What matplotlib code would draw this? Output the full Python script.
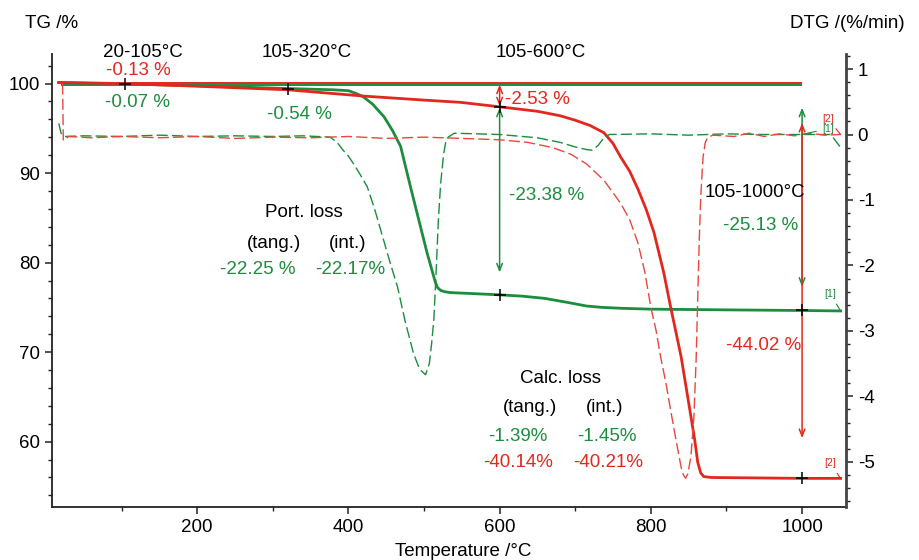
import numpy as np
import matplotlib.pyplot as plt
from matplotlib.ticker import MultipleLocator

plt.rcParams['font.family'] = ['Liberation Sans', 'DejaVu Sans']
plt.rcParams['axes.unicode_minus'] = False

GREEN = '#1b8d3d'
RED = '#e2281e'
RED_D = '#e8473c'
AX_C = '#222222'
FS = 13.5

# TG curves (%)
tg1_t = [17, 105, 200, 320, 380, 400, 410, 420, 432, 447, 458, 469, 482, 493, 504, 510, 515, 518, 522, 527, 535,
         600, 630, 660, 690, 715, 735, 760, 800, 900, 1000, 1051]
tg1_v = [100.1, 99.95, 99.75, 99.44, 99.3, 99.2, 98.9, 98.5, 97.7, 96.3, 94.8, 93.0, 88.5, 84.8, 81.1, 79.3, 77.8, 77.2, 76.9, 76.75, 76.65,
         76.4, 76.25, 76.0, 75.55, 75.15, 75.0, 74.9, 74.8, 74.72, 74.65, 74.6]

tg2_t = [17, 105, 200, 320, 420, 500, 548, 600, 650, 680, 700, 720, 738, 750, 760, 772, 783, 794, 804, 817, 826, 840,
         853, 858, 862, 866, 870, 880, 1000, 1051]
tg2_v = [100.12, 99.99, 99.7, 99.3, 98.6, 98.15, 97.9, 97.4, 96.9, 96.4, 95.9, 95.3, 94.5, 93.3, 91.8, 90.2, 88.2, 85.9, 83.4, 78.9, 75.1, 69.5,
         62.8, 60.2, 57.7, 56.5, 56.1, 56.0, 55.9, 55.9]

# DTG curves (%/min)
dtg1_t = [17, 20, 25, 50, 100, 150, 200, 250, 300, 340, 376, 385, 393, 400, 407, 415, 425, 435, 445, 455, 465, 475, 486, 494,
          502, 507, 510, 513, 516, 519, 522, 526, 529, 532, 540, 570, 600, 650, 680, 700, 715, 722, 730, 738, 745, 800, 850,
          900, 950, 1000, 1038, 1051]
dtg1_v = [0.17, 0.02, -0.03, -0.02, -0.03, -0.01, -0.03, -0.02, -0.03, -0.02, -0.04, -0.12, -0.24, -0.33, -0.45, -0.6, -0.8, -1.15, -1.55, -1.95, -2.33, -2.85, -3.34, -3.58,
          -3.67, -3.5, -3.2, -2.83, -2.1, -1.31, -0.75, -0.29, -0.1, -0.04, 0.02, 0.01, 0.0, -0.05, -0.12, -0.19, -0.23, -0.24, -0.17, -0.05, 0.0, 0.01, -0.01,
          0.01, 0.0, 0.0, 0.0, -0.2]

dtg2_t = [22, 23, 30, 60, 100, 150, 200, 250, 300, 350, 400, 450, 500, 550, 600, 637, 670, 694, 715, 738, 760, 772, 783, 792,
          800, 807, 813, 820, 826, 833, 840, 843, 846, 849, 853, 857, 860, 862, 864, 866, 869, 872, 875, 882,
          910, 930, 950, 970, 990, 1010, 1030, 1051]
dtg2_v = [0.78, -0.09, -0.03, -0.05, -0.03, -0.05, -0.03, -0.06, -0.04, -0.05, -0.03, -0.06, -0.04, -0.06, -0.08, -0.12, -0.2, -0.3, -0.45, -0.7, -1.05, -1.3, -1.66, -2.1,
          -2.64, -3.0, -3.4, -3.8, -4.2, -4.65, -5.08, -5.2, -5.25, -5.18, -4.92, -4.3, -3.4, -2.5, -1.62, -0.95, -0.35, -0.12, -0.05, -0.01,
          -0.03, 0.02, -0.03, 0.01, -0.02, 0.02, -0.01, 0.0]

# reference levels and evaluation points
ref_red, ref_green = 100.05, 99.85
ref_t = [20, 1000]
eval_t = [105, 320, 600, 1000]
arr600_red = [99.88, 97.45]
arr600_green = [97.3, 78.9]
arr1000_green = [97.3, 77.3]
arr1000_red = [95.6, 60.4]

fig = plt.figure(figsize=(9.2, 5.6), dpi=100)
ax = fig.add_axes([0.0565, 0.0946, 0.863, 0.809])
ax2 = ax.twinx()

ax2.plot(dtg1_t, dtg1_v, color=GREEN, lw=1.0, dashes=(8, 3))
ax2.plot(dtg2_t, dtg2_v, color=RED_D, lw=1.0, dashes=(8, 3))

ax.hlines(ref_red, ref_t[0], ref_t[1], color=RED, lw=1.4, zorder=3)
ax.hlines(ref_green, ref_t[0], ref_t[1], color=GREEN, lw=1.4, zorder=3)
ax.plot(tg1_t, tg1_v, color=GREEN, lw=2.0, zorder=4)
ax.plot(tg2_t, tg2_v, color=RED, lw=2.0, zorder=4)

# crosses at evaluation points
cx = [eval_t[0], eval_t[1], eval_t[2], eval_t[2], eval_t[3], eval_t[3]]
cy = [np.interp(eval_t[0], tg2_t, tg2_v), np.interp(eval_t[1], tg1_t, tg1_v),
      np.interp(eval_t[2], tg2_t, tg2_v), np.interp(eval_t[2], tg1_t, tg1_v),
      np.interp(eval_t[3], tg1_t, tg1_v), np.interp(eval_t[3], tg2_t, tg2_v)]
ax.plot(cx, cy, ls='none', marker='+', ms=9, mew=1.1, color='black', zorder=6)


def darrow(x, y0, y1, col):
    ax.annotate('', xy=(x, y1), xytext=(x, y0),
                arrowprops=dict(arrowstyle='<->,head_length=0.5,head_width=0.2', color=col, lw=1.1,
                                shrinkA=0, shrinkB=0), zorder=5)


darrow(eval_t[2], arr600_green[0], arr600_green[1], GREEN)
darrow(eval_t[2], arr600_red[0], arr600_red[1], RED)
darrow(eval_t[3], arr1000_green[0], arr1000_green[1], GREEN)
darrow(eval_t[3], arr1000_red[0], arr1000_red[1], RED)


# curve labels
def tag(txt, xy, xytext, col, axis):
    axis.annotate(txt, xy=xy, xytext=xytext, color=col, fontsize=7.5, ha='center', va='center',
                  arrowprops=dict(arrowstyle='-', color=col, lw=0.8, shrinkA=2, shrinkB=0))


tag('[1]', (tg1_t[-1], tg1_v[-1]), (1037, 76.5), GREEN, ax)
tag('[2]', (tg2_t[-1], tg2_v[-1]), (1037, 57.6), RED, ax)
tag('[2]', (dtg2_t[-1], dtg2_v[-1]), (1034, 0.24), RED, ax2)
tag('[1]', (dtg1_t[-3], dtg1_v[-3]), (1034, 0.09), GREEN, ax2)

texts = [
    ('20-105°C', 128.6, 103.5, 'black'),
    ('-0.13 %', 122, 101.4, RED),
    ('-0.07 %', 120.7, 97.9, GREEN),
    ('105-320°C', 345.5, 103.5, 'black'),
    ('-0.54 %', 335, 96.5, GREEN),
    ('105-600°C', 654.9, 103.5, 'black'),
    ('-23.38 %', 662.8, 87.5, GREEN),
    ('Port. loss', 341.5, 85.6, 'black'),
    ('(tang.)', 301.8, 82.1, 'black'),
    ('(int.)', 398.4, 82.1, 'black'),
    ('-22.25 %', 280.7, 79.2, GREEN),
    ('-22.17%', 402.3, 79.2, GREEN),
    ('105-1000°C', 937.9, 87.8, 'black'),
    ('-25.13 %', 945.8, 84.1, GREEN),
    ('-44.02 %', 949.8, 70.7, RED),
    ('Calc. loss', 680, 67.1, 'black'),
    ('(tang.)', 640.3, 63.8, 'black'),
    ('(int.)', 739.5, 63.8, 'black'),
    ('-1.39%', 624.5, 60.6, GREEN),
    ('-1.45%', 742.2, 60.6, GREEN),
    ('-40.14%', 624.5, 57.7, RED),
    ('-40.21%', 743.5, 57.7, RED),
]
for s, x, y, c in texts:
    ax.text(x, y, s, color=c, fontsize=FS, ha='center', va='center', zorder=7)
ax.text(607, 98.2, '-2.53 %', color=RED, fontsize=FS, ha='left', va='center', zorder=7)

# axes
ax.set_xlim(8, 1058)
ax.set_ylim(52.7, 103.3)
ax2.set_ylim(-5.69, 1.23)
ax.set_xticks([200, 400, 600, 800, 1000])
ax.xaxis.set_minor_locator(MultipleLocator(100))
ax.set_yticks([60, 70, 80, 90, 100])
ax.yaxis.set_minor_locator(MultipleLocator(2))
ax2.set_yticks([-5, -4, -3, -2, -1, 0, 1])
ax2.yaxis.set_minor_locator(MultipleLocator(0.2))

for a in (ax, ax2):
    a.spines['top'].set_visible(False)
    for sp in a.spines.values():
        sp.set_color(AX_C)
        sp.set_linewidth(1.3)
    a.tick_params(which='major', direction='out', length=5, width=1.1, colors=AX_C, labelsize=FS, labelcolor='black')
    a.tick_params(which='minor', direction='out', length=3, width=1.0, colors=AX_C)
ax.spines['right'].set_visible(False)
ax2.spines['left'].set_visible(False)
ax2.spines['bottom'].set_visible(False)
ax2.spines['right'].set_linewidth(2.0)
ax2.spines['right'].set_color('#444444')

fig.text(25 / 920, 1 - 23 / 560, 'TG /%', fontsize=FS, ha='left', va='center')
fig.text(905 / 920, 1 - 23 / 560, 'DTG /(%/min)', fontsize=FS, ha='right', va='center')
fig.text(463 / 920, 1 - 551 / 560, 'Temperature /°C', fontsize=FS, ha='center', va='center')

fig.savefig('out.png', dpi=100)
